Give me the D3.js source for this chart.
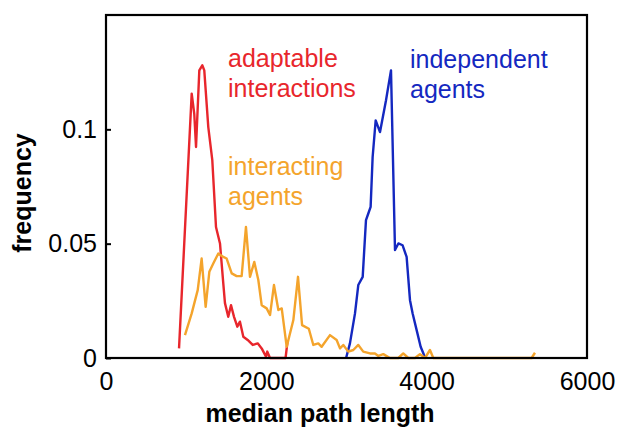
<!DOCTYPE html>
<html>
<head>
<meta charset="utf-8">
<script src="https://cdn.jsdelivr.net/npm/d3@7"></script>
<style>
  html, body { margin: 0; padding: 0; background: #fff; }
  svg { display: block; font-family: "Liberation Sans", Arial, sans-serif; }
</style>
</head>
<body>
<svg id="chart" width="619" height="433"></svg>
<script>
// Distribution of median path length for three agent models
const xTicks = [0, 2000, 4000, 6000];
const yTicks = [0, 0.05, 0.1];
const yTickLabels = ["0", "0.05", "0.1"];

const adaptableX = [911,1069,1101,1123,1164,1201,1226,1276,1326,1372,1422,1463,1484,1525,1559,1597,1638,1671,1713,1767,1830,1892,1942,1996,2012,2046,2240,2265];
const adaptableY = [0.0042,0.1156,0.1068,0.0923,0.1258,0.128,0.1258,0.101,0.0865,0.0573,0.0501,0.0326,0.024,0.018,0.0231,0.018,0.0137,0.0159,0.0093,0.0079,0.0057,0.0064,0.0042,0.0006,0.0028,0,0,0.0075];

const interactingX = [985,1069,1144,1193,1243,1289,1338,1401,1463,1505,1568,1630,1692,1746,1796,1850,1900,1942,2004,2046,2095,2150,2192,2254,2337,2395,2446,2530,2586,2648,2690,2794,2877,2919,2960,3022,3085,3147,3209,3293,3355,3397,3459,3542,3646,3708,3771,3854,3916,3979,4041,4083,5309,5351];
const interactingY = [0.01,0.0195,0.0297,0.0435,0.0224,0.0377,0.0413,0.0457,0.0442,0.0435,0.037,0.0358,0.0358,0.0573,0.0355,0.042,0.0341,0.0231,0.0217,0.0188,0.0319,0.021,0.0217,0.0049,0.0166,0.0355,0.0144,0.0128,0.0057,0.0064,0.0049,0.01,0.0079,0.0042,0.0057,0.0028,0.0035,0.0057,0.0028,0.002,0.002,0.0009,0.0017,0,0,0.002,0,0,0.0017,0,0.0035,0,0,0.0023];

const independentX = [2995,3043,3106,3147,3202,3243,3272,3301,3326,3364,3418,3493,3555,3605,3647,3700,3750,3792,3825,3875,3925,3967,3990];
const independentY = [0,0.0064,0.0195,0.0319,0.0355,0.0603,0.0632,0.0661,0.0879,0.1039,0.0988,0.1127,0.1258,0.0472,0.0501,0.0493,0.0442,0.0253,0.0195,0.0122,0.0049,0.0013,0];

const seriesNames = ["adaptable interactions", "interacting agents", "independent agents"];

const svg = d3.select("#chart");
const plot = { left: 106, right: 587, top: 15, bottom: 358 };

const x = d3.scaleLinear().domain([0, 6000]).range([plot.left, plot.right]);
const y = d3.scaleLinear().domain([0, 0.15]).range([plot.bottom, plot.top]);

const series = [
  { name: seriesNames[0], xs: adaptableX, ys: adaptableY, color: "#e8262c",
    label: ["adaptable", "interactions"], lx: 228, ly: 67 },
  { name: seriesNames[2], xs: independentX, ys: independentY, color: "#1428c0",
    label: ["independent", "agents"], lx: 410, ly: 68 },
  { name: seriesNames[1], xs: interactingX, ys: interactingY, color: "#f4a42c",
    label: ["interacting", "agents"], lx: 228, ly: 175 }
];

const line = d3.line().x(d => x(d[0])).y(d => y(d[1]));

series.forEach(s => {
  const pts = s.xs.map((v, i) => [v, s.ys[i]]);
  svg.append("path")
    .datum(pts)
    .attr("d", line)
    .attr("fill", "none")
    .attr("stroke", s.color)
    .attr("stroke-width", 2.4)
    .attr("stroke-linejoin", "round");

  const t = svg.append("text")
    .attr("x", s.lx).attr("y", s.ly)
    .attr("fill", s.color)
    .attr("font-size", 25);
  s.label.forEach((ln, i) => {
    t.append("tspan").attr("x", s.lx).attr("dy", i === 0 ? 0 : 29.5).text(ln);
  });
});

// axes
const yAxis = d3.axisLeft(y)
  .tickValues(yTicks)
  .tickFormat((d, i) => yTickLabels[i])
  .tickSize(-5)
  .tickPadding(9);
const gy = svg.append("g").attr("transform", `translate(${plot.left},0)`).call(yAxis);
gy.select(".domain").remove();
gy.selectAll("line").attr("stroke", "#000").attr("stroke-width", 2);
gy.selectAll("text").attr("font-size", 25).attr("fill", "#000")
  .attr("font-family", "Liberation Sans, Arial, sans-serif");

const xAxis = d3.axisBottom(x)
  .tickValues(xTicks)
  .tickFormat(d3.format("d"))
  .tickSize(0)
  .tickPadding(14);
const gx = svg.append("g").attr("transform", `translate(0,${plot.bottom})`).call(xAxis);
gx.select(".domain").remove();
gx.selectAll("text").attr("font-size", 25).attr("fill", "#000")
  .attr("font-family", "Liberation Sans, Arial, sans-serif");

// frame
svg.append("rect")
  .attr("x", plot.left).attr("y", plot.top)
  .attr("width", plot.right - plot.left).attr("height", plot.bottom - plot.top)
  .attr("fill", "none").attr("stroke", "#000").attr("stroke-width", 2.2);

// axis titles
svg.append("text")
  .attr("x", 320).attr("y", 422)
  .attr("text-anchor", "middle")
  .attr("font-size", 25).attr("font-weight", "bold")
  .text("median path length");

svg.append("text")
  .attr("transform", "translate(31,193) rotate(-90)")
  .attr("text-anchor", "middle")
  .attr("font-size", 25).attr("font-weight", "bold")
  .text("frequency");
</script>
</body>
</html>
